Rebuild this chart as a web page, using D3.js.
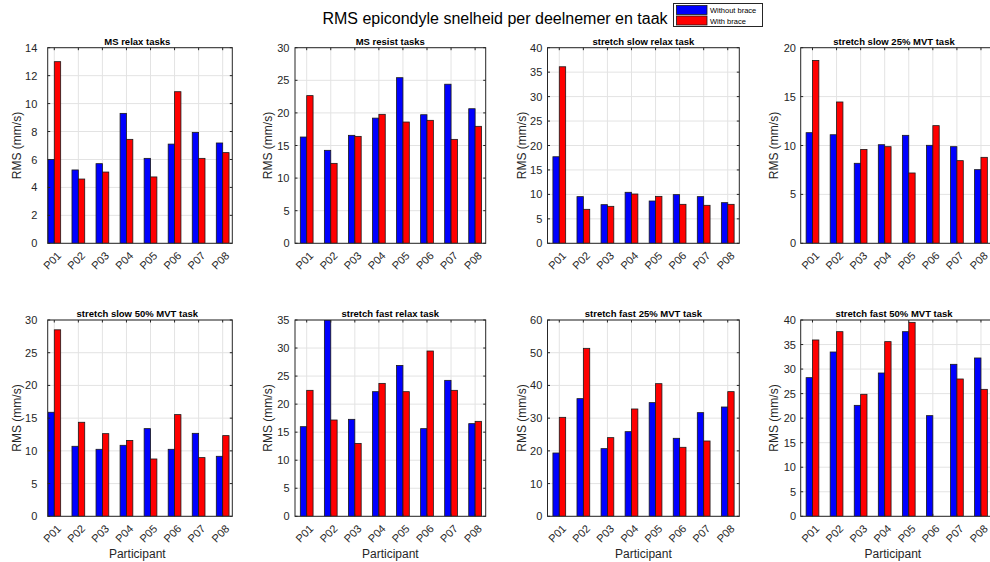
<!DOCTYPE html>
<html>
<head>
<meta charset="utf-8">
<script src="https://cdn.jsdelivr.net/npm/d3@7"></script>
<style>
  body { margin: 0; background: #fff; }
  text { font-family: "Liberation Sans", Arial, Helvetica, sans-serif; }
</style>
</head>
<body>
<svg id="fig" width="990" height="562"></svg>
<script>
// Participants and tasks
const participants = ["P01", "P02", "P03", "P04", "P05", "P06", "P07", "P08"];
const taskTitles = [
  "MS relax tasks", "MS resist tasks", "stretch slow relax task", "stretch slow 25% MVT task",
  "stretch slow 50% MVT task", "stretch fast relax task", "stretch fast 25% MVT task", "stretch fast 50% MVT task"
];
const seriesNames = ["Without brace", "With brace"];

// RMS values (mm/s) per task, without / with brace
const msRelaxWithout   = [6.0, 5.25, 5.7, 9.3, 6.08, 7.1, 7.94, 7.18];
const msRelaxWith      = [13.0, 4.6, 5.1, 7.44, 4.75, 10.85, 6.08, 6.49];
const msResistWithout  = [16.3, 14.26, 16.56, 19.2, 25.4, 19.72, 24.4, 20.64];
const msResistWith     = [22.65, 12.26, 16.4, 19.78, 18.6, 18.86, 15.94, 17.94];
const slowRelaxWithout = [17.7, 9.54, 7.9, 10.43, 8.65, 9.95, 9.54, 8.31];
const slowRelaxWith    = [36.1, 6.95, 7.56, 10.08, 9.6, 7.97, 7.77, 7.97];
const slow25Without    = [11.31, 11.1, 8.18, 10.08, 11.04, 10.02, 9.88, 7.53];
const slow25With       = [18.7, 14.45, 9.6, 9.88, 7.19, 12.03, 8.45, 8.79];
const slow50Without    = [15.9, 10.7, 10.24, 10.85, 13.4, 10.24, 12.68, 9.17];
const slow50With       = [28.5, 14.37, 12.63, 11.6, 8.76, 15.54, 8.97, 12.33];
const fastRelaxWithout = [15.98, 35.0, 17.29, 22.22, 26.9, 15.63, 24.24, 16.52];
const fastRelaxWith    = [22.46, 17.17, 13.0, 23.7, 22.22, 29.47, 22.46, 16.93];
const fast25Without    = [19.35, 35.96, 20.68, 25.87, 34.74, 23.84, 31.68, 33.41];
const fast25With       = [30.25, 51.34, 24.04, 32.8, 40.54, 21.09, 23.02, 38.1];
const fast50Without    = [28.25, 33.48, 22.61, 29.2, 37.62, 20.51, 30.97, 32.26];
const fast50With       = [35.93, 37.62, 24.86, 35.59, 39.52, null, 27.98, 25.87];

const withoutSeries = [msRelaxWithout, msResistWithout, slowRelaxWithout, slow25Without,
                       slow50Without, fastRelaxWithout, fast25Without, fast50Without];
const withSeries    = [msRelaxWith, msResistWith, slowRelaxWith, slow25With,
                       slow50With, fastRelaxWith, fast25With, fast50With];

// Y-axis limits and tick steps per task
const yLimits = [14, 30, 40, 20, 30, 35, 60, 40];
const yStepSizes = [2, 5, 5, 5, 5, 5, 10, 5];

// ---- layout ----
const colLayout = [
  { left: 47.7, right: 232.3, lo: 0.726, hi: 8.4, labelRight: 37.3, ylabX: 17, titleX: 137.3 },
  { left: 295, right: 485.7, lo: 0.514, hi: 8.44, labelRight: 289.5, ylabX: 268.3, titleX: 390.3 },
  { left: 547.5, right: 739.3, lo: 0.51, hi: 8.48, labelRight: 542.3, ylabX: 521.7, titleX: 643.4 },
  { left: 800.7, right: 993, lo: 0.51, hi: 8.5, labelRight: 796, ylabX: 774.3, titleX: 894 }
];
const rowLayout = [
  { top: 47.7, bottom: 243.3, titleY: 44.5, ylabY: 145.5 },
  { top: 320, bottom: 516.3, titleY: 316.5, ylabY: 418 }
];
const blue = "#0000ff", red = "#ff0000";
const axisColor = "#262626", gridColor = "#e3e3e3", textColor = "#262626";
const halfBar = 0.265;

const svg = d3.select("#fig");
svg.append("rect").attr("width", 990).attr("height", 562).attr("fill", "#fff");

// Figure title
svg.append("text")
  .attr("x", 495).attr("y", 24)
  .attr("text-anchor", "middle")
  .attr("font-size", 16)
  .attr("fill", "#000")
  .text("RMS epicondyle snelheid per deelnemer en taak");

taskTitles.forEach((title, k) => {
  const c = colLayout[k % 4], r = rowLayout[Math.floor(k / 4)];
  const x = d3.scaleLinear().domain([c.lo, c.hi]).range([c.left, c.right]);
  const y = d3.scaleLinear().domain([0, yLimits[k]]).range([r.bottom, r.top]);
  const yTicks = d3.range(0, yLimits[k] + 1e-9, yStepSizes[k]);
  const g = svg.append("g");

  const clipId = "clip" + k;
  g.append("clipPath").attr("id", clipId)
    .append("rect").attr("x", c.left).attr("y", r.top)
    .attr("width", c.right - c.left).attr("height", r.bottom - r.top);

  // grid
  const grid = g.append("g").attr("stroke", gridColor).attr("stroke-width", 1);
  grid.selectAll("line.v").data(participants).join("line")
    .attr("class", "v")
    .attr("x1", (d, i) => x(i + 1)).attr("x2", (d, i) => x(i + 1))
    .attr("y1", r.top).attr("y2", r.bottom);
  grid.selectAll("line.h").data(yTicks).join("line")
    .attr("class", "h")
    .attr("x1", c.left).attr("x2", c.right)
    .attr("y1", d => y(d)).attr("y2", d => y(d));

  // bars
  const bars = g.append("g").attr("clip-path", `url(#${clipId})`);
  const drawSeries = (vals, offset, color) => {
    bars.selectAll(null)
      .data(vals.map((v, i) => ({ v, i })).filter(d => d.v != null))
      .join("rect")
      .attr("x", d => x(d.i + 1 + offset))
      .attr("width", d => x(d.i + 1 + offset + halfBar) - x(d.i + 1 + offset))
      .attr("y", d => y(d.v))
      .attr("height", d => y(0) - y(d.v))
      .attr("fill", color)
      .attr("stroke", "#1a1a1a")
      .attr("stroke-width", 0.8);
  };
  drawSeries(withoutSeries[k], -halfBar, blue);
  drawSeries(withSeries[k], 0, red);

  // y axis labels
  const yAxis = d3.axisLeft(y).tickValues(yTicks).tickSize(0).tickPadding(0).tickFormat(d3.format("d"));
  const ya = g.append("g").attr("transform", `translate(${c.labelRight},0)`).call(yAxis);
  ya.select(".domain").remove();
  ya.selectAll("text").attr("font-size", 11).attr("fill", textColor)
    .attr("font-family", "'Liberation Sans', Arial, sans-serif");

  // x axis labels (rotated)
  const xAxis = d3.axisBottom(x).tickValues(d3.range(1, 9)).tickSize(0)
    .tickFormat(d => participants[d - 1]);
  const xa = g.append("g").attr("transform", `translate(0,${r.bottom})`).call(xAxis);
  xa.select(".domain").remove();
  xa.selectAll("text")
    .attr("font-size", 11).attr("fill", textColor)
    .attr("font-family", "'Liberation Sans', Arial, sans-serif")
    .attr("text-anchor", "end")
    .attr("dy", 0).attr("y", 0)
    .attr("transform", "translate(7,13) rotate(-45)");

  // inward tick marks on all sides
  const ticks = g.append("g").attr("stroke", axisColor).attr("stroke-width", 1);
  d3.range(1, 9).forEach(i => {
    ticks.append("line").attr("x1", x(i)).attr("x2", x(i)).attr("y1", r.bottom).attr("y2", r.bottom - 2.5);
    ticks.append("line").attr("x1", x(i)).attr("x2", x(i)).attr("y1", r.top).attr("y2", r.top + 2.5);
  });
  yTicks.forEach(t => {
    ticks.append("line").attr("x1", c.left).attr("x2", c.left + 2.5).attr("y1", y(t)).attr("y2", y(t));
    ticks.append("line").attr("x1", c.right).attr("x2", c.right - 2.5).attr("y1", y(t)).attr("y2", y(t));
  });

  // axes box
  g.append("rect")
    .attr("x", c.left).attr("y", r.top)
    .attr("width", c.right - c.left).attr("height", r.bottom - r.top)
    .attr("fill", "none").attr("stroke", axisColor).attr("stroke-width", 1);

  // panel title
  g.append("text")
    .attr("x", c.titleX).attr("y", r.titleY)
    .attr("text-anchor", "middle")
    .attr("font-size", 9.5).attr("font-weight", "bold").attr("fill", "#000")
    .text(title);

  // y label
  g.append("text")
    .attr("transform", `translate(${c.ylabX},${r.ylabY}) rotate(-90)`)
    .attr("text-anchor", "middle").attr("dominant-baseline", "central")
    .attr("font-size", 12).attr("fill", textColor)
    .text("RMS (mm/s)");

  // x label on the bottom row
  if (k >= 4) {
    g.append("text")
      .attr("x", (c.left + Math.min(c.right, 985)) / 2 + (k % 4 === 0 ? -2.7 : 0))
      .attr("y", 558)
      .attr("text-anchor", "middle")
      .attr("font-size", 12).attr("fill", textColor)
      .text("Participant");
  }
});

// legend
const leg = svg.append("g");
leg.append("rect").attr("x", 673.5).attr("y", 3.5).attr("width", 89).attr("height", 23)
  .attr("fill", "#fff").attr("stroke", "#262626").attr("stroke-width", 1);
seriesNames.forEach((name, i) => {
  const yy = 5.5 + i * 10.5;
  leg.append("rect").attr("x", 676.5).attr("y", yy).attr("width", 30.5).attr("height", 9)
    .attr("fill", i === 0 ? blue : red).attr("stroke", "#1a1a1a").attr("stroke-width", 0.8);
  leg.append("text").attr("x", 710).attr("y", yy + 7.5)
    .attr("font-size", 7.5).attr("fill", "#000").text(name);
});
</script>
</body>
</html>
